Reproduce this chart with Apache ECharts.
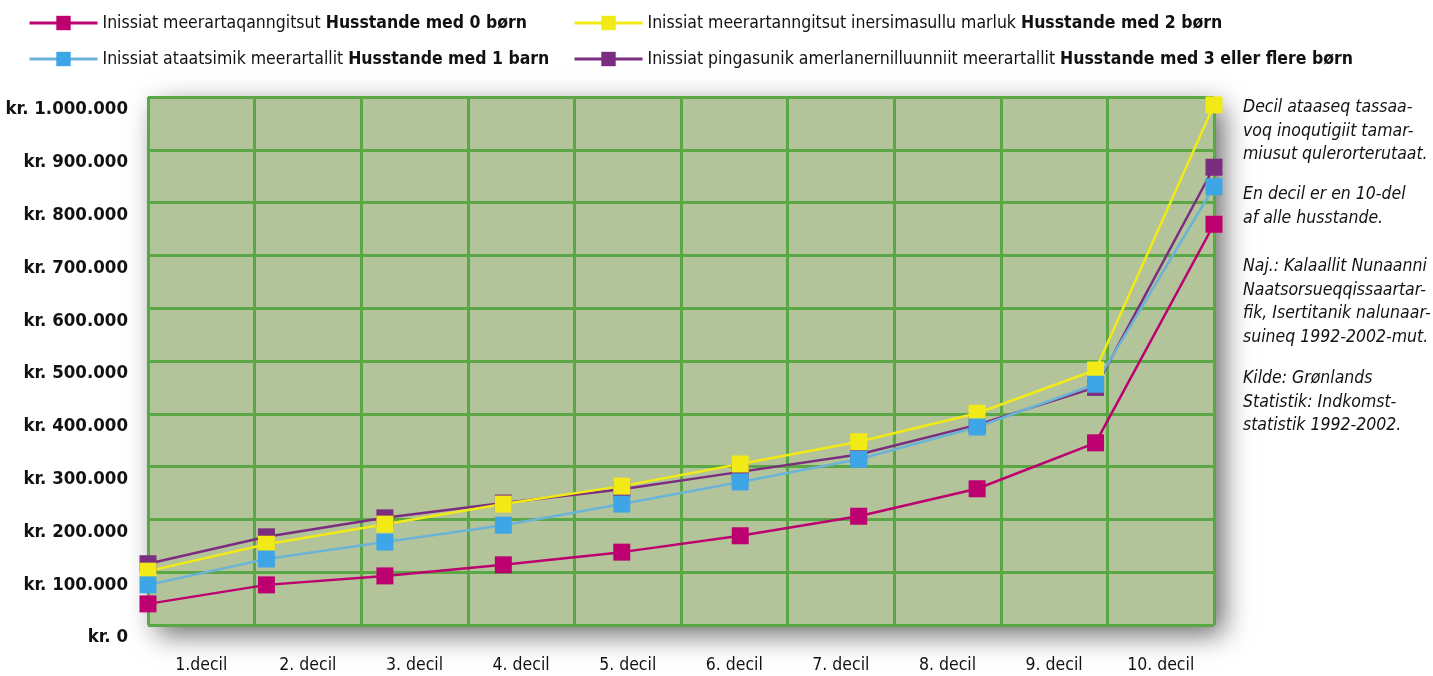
<!DOCTYPE html>
<html lang="kl">
<head>
  <meta charset="utf-8">
  <style>
    html, body { margin: 0; padding: 0; background: #fff; }
    #container { width: 1433px; height: 676px; }
  </style>
  <title>Husstande deciler</title>
</head>
<body>
  <div id="container"></div>
  <script src="https://cdn.jsdelivr.net/npm/echarts@6/dist/echarts.min.js"></script>
  <script>
    // categories
    var deciles = ['1.decil', '2. decil', '3. decil', '4. decil', '5. decil',
                   '6. decil', '7. decil', '8. decil', '9. decil', '10. decil'];

    // series values (kr.)
    var born0 = [40000, 76000, 93000, 114000, 138000, 169000, 206000, 258000, 345000, 759000];
    var born1 = [76000, 125000, 157000, 189000, 229000, 271000, 314000, 375000, 456000, 830000];
    var born2 = [102000, 153000, 191000, 229000, 263000, 305000, 347000, 401000, 483000, 985000];
    var born3 = [116000, 167000, 203000, 231000, 257000, 290000, 323000, 379000, 450000, 867000];

    // legend texts: plain part + bold part
    var namePlain = ['Inissiat meerartaqanngitsut ', 'Inissiat ataatsimik meerartallit ',
                     'Inissiat meerartanngitsut inersimasullu marluk ', 'Inissiat pingasunik amerlanernilluunniit meerartallit '];
    var nameBold = ['Husstande med 0 børn', 'Husstande med 1 barn',
                    'Husstande med 2 børn', 'Husstande med 3 eller flere børn'];

    // side note
    var notes = [
      ['Decil ataaseq tassaa-', 'voq inoqutigiit tamar-', 'miusut qulerorterutaat.'],
      ['En decil er en 10-del', 'af alle husstande.'],
      ['Naj.: Kalaallit Nunaanni', 'Naatsorsueqqissaartar-', 'fik, Isertitanik nalunaar-', 'suineq 1992-2002-mut.'],
      ['Kilde: Grønlands', 'Statistik: Indkomst-', 'statistik 1992-2002.']
    ];

    var font = "'DejaVu Sans Condensed', 'Liberation Sans Narrow', sans-serif";
    var names = namePlain.map(function (p, i) { return p + nameBold[i]; });

    function legendFmt(name) {
      var i = names.indexOf(name);
      return '{n|' + namePlain[i] + '}{b|' + nameBold[i] + '}';
    }
    var legendRich = {
      n: { fontFamily: font, fontSize: 17.5, color: '#111' },
      b: { fontFamily: font, fontSize: 17.5, fontWeight: 'bold', color: '#111' }
    };

    function mkSeries(idx, data, markerColor, lineColor) {
      return {
        name: names[idx],
        type: 'line',
        xAxisIndex: 1,
        data: data,
        symbol: 'rect',
        symbolSize: 17,
        lineStyle: { color: lineColor, width: 2.5 },
        itemStyle: { color: markerColor },
        emphasis: { disabled: true },
        animation: false
      };
    }

    var noteGraphics = [];
    var noteTops = [96, 183, 255, 367];
    notes.forEach(function (lines, i) {
      noteGraphics.push({
        type: 'text',
        left: 1243,
        top: noteTops[i],
        style: {
          text: lines.join('\n'),
          font: 'italic 17.5px ' + font,
          lineHeight: 23.5,
          fill: '#111'
        }
      });
    });

    var legendBase = {
      orient: 'vertical',
      top: 9,
      itemWidth: 68, itemHeight: 18, itemGap: 18,
      formatter: legendFmt,
      textStyle: { rich: legendRich },
      lineStyle: { width: 3 }
    };

    var myChart = echarts.init(document.getElementById('container'));
    myChart.setOption({
      animation: false,
      legend: [
        Object.assign({}, legendBase, { left: 23, data: [names[0], names[1]] }),
        Object.assign({}, legendBase, { left: 568, data: [names[2], names[3]] })
      ],
      grid: {
        show: true,
        left: 148, right: 219, top: 97, bottom: 51,
        outerBoundsMode: 'none',
        containLabel: false,
        backgroundColor: '#b3c49a',
        borderWidth: 0,
        shadowColor: 'rgba(0,0,0,0.6)',
        shadowBlur: 26,
        shadowOffsetX: 9,
        shadowOffsetY: 9
      },
      xAxis: [{
        type: 'category',
        data: deciles,
        boundaryGap: true,
        axisLine: { show: false },
        axisTick: { show: false },
        axisLabel: { margin: 31, fontFamily: font, fontSize: 17.5, color: '#111' },
        splitLine: { show: true, lineStyle: { color: '#5aa845', width: 3 } }
      }, {
        type: 'category',
        data: deciles,
        boundaryGap: false,
        show: false
      }],
      yAxis: {
        type: 'value',
        min: 0, max: 1000000, interval: 100000,
        axisLine: { show: false },
        axisTick: { show: false },
        axisLabel: {
          margin: 20,
          verticalAlign: 'top',
          padding: [3, 0, 0, 0],
          fontFamily: font, fontSize: 18.5, fontWeight: 'bold', color: '#111',
          formatter: function (v) {
            return 'kr. ' + String(v).replace(/\B(?=(\d{3})+(?!\d))/g, '.');
          }
        },
        splitLine: { show: true, lineStyle: { color: '#5aa845', width: 3 } }
      },
      series: [
        mkSeries(3, born3, '#7b2d80', '#7b2d80'),
        mkSeries(2, born2, '#f2ea16', '#f2ea16'),
        mkSeries(1, born1, '#3ea6e6', '#6cb3d8'),
        mkSeries(0, born0, '#bd006f', '#bd006f')
      ],
      graphic: noteGraphics
    });
  </script>
</body>
</html>
